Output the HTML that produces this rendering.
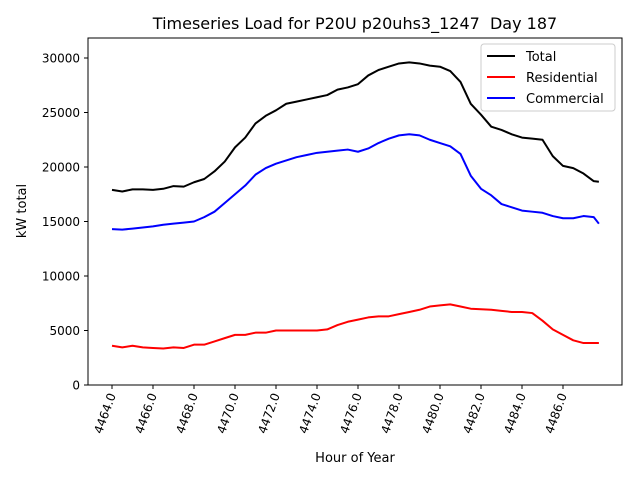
<!DOCTYPE html>
<html><head><meta charset="utf-8"><style>
body{margin:0;background:#fff;}
svg text{font-family:"DejaVu Sans","Liberation Sans",sans-serif;}
</style></head><body>
<svg id="chart" width="640" height="480" xmlns="http://www.w3.org/2000/svg">
<rect width="640" height="480" fill="#fff"/>
<text x="355" y="29" font-size="16" text-anchor="middle" style="white-space:pre">Timeseries Load for P20U p20uhs3_1247  Day 187</text>
<g id="axes"></g>
<g id="series"></g>
<rect x="88" y="38" width="534" height="347" fill="none" stroke="#000" stroke-width="1"/>
<text x="355" y="462" font-size="13" text-anchor="middle">Hour of Year</text>
<text transform="translate(26,211) rotate(-90)" font-size="13" text-anchor="middle">kW total</text>
<g>
<rect x="481" y="44" width="134" height="67" rx="3" fill="#fff" fill-opacity="0.8" stroke="#ccc"/>
<line x1="487" y1="56" x2="515" y2="56" stroke="#000" stroke-width="2"/>
<text x="526" y="61" font-size="13">Total</text>
<line x1="487" y1="77" x2="515" y2="77" stroke="#f00" stroke-width="2"/>
<text x="526" y="82" font-size="13">Residential</text>
<line x1="487" y1="98" x2="515" y2="98" stroke="#00f" stroke-width="2"/>
<text x="526" y="103" font-size="13">Commercial</text>
</g>
</svg>
<script>
const hours=[4464,4464.5,4465,4465.5,4466,4466.5,4467,4467.5,4468,4468.5,4469,4469.5,4470,4470.5,4471,4471.5,4472,4472.5,4473,4473.5,4474,4474.5,4475,4475.5,4476,4476.5,4477,4477.5,4478,4478.5,4479,4479.5,4480,4480.5,4481,4481.5,4482,4482.5,4483,4483.5,4484,4484.5,4485,4485.5,4486,4486.5,4487,4487.5,4487.75];
const total=[17900,17750,17950,17950,17900,18000,18250,18200,18600,18900,19600,20500,21800,22700,24000,24700,25200,25800,26000,26200,26400,26600,27100,27300,27600,28400,28900,29200,29500,29600,29500,29300,29200,28800,27800,25800,24800,23700,23400,23000,22700,22600,22500,21000,20100,19900,19400,18700,18650];
const residential=[3600,3450,3600,3450,3400,3350,3450,3400,3700,3700,4000,4300,4600,4600,4800,4800,5000,5000,5000,5000,5000,5100,5500,5800,6000,6200,6300,6300,6500,6700,6900,7200,7300,7400,7200,7000,6950,6900,6800,6700,6700,6600,5900,5100,4600,4100,3850,3850,3850];
const commercial=[14300,14250,14350,14450,14550,14700,14800,14900,15000,15400,15900,16700,17500,18300,19300,19900,20300,20600,20900,21100,21300,21400,21500,21600,21400,21700,22200,22600,22900,23000,22900,22500,22200,21900,21200,19200,18000,17400,16600,16300,16000,15900,15800,15500,15300,15300,15500,15400,14800];
const xTicks=[4464,4466,4468,4470,4472,4474,4476,4478,4480,4482,4484,4486];
const yTicks=[0,5000,10000,15000,20000,25000,30000];
const NS='http://www.w3.org/2000/svg';
const X=h=>112+(h-4464)*20.5;
const Y=v=>385-v*0.0109;
const axes=document.getElementById('axes');
const series=document.getElementById('series');
function mk(tag,attrs,parent){const e=document.createElementNS(NS,tag);for(const k in attrs)e.setAttribute(k,attrs[k]);parent.appendChild(e);return e;}
xTicks.forEach(t=>{
  const l=mk('line',{x1:X(t),x2:X(t),y1:385,y2:389,stroke:'#000'},axes);
  
  
  const tx=mk('text',{transform:`translate(${X(t)+4},395) rotate(-70)`,'font-size':12,'text-anchor':'end'},axes);
  tx.textContent=t.toFixed(1);
  
  
});
yTicks.forEach(t=>{
  const l=mk('line',{x1:84,x2:88,y1:Y(t),y2:Y(t),stroke:'#000'},axes);
  
  
  const tx=mk('text',{x:80,y:Y(t)+4.5,'font-size':12,'text-anchor':'end'},axes);
  tx.textContent=t;
  
  
});
[[total,'#000','total-line'],[residential,'#f00','residential-line'],[commercial,'#00f','commercial-line']].forEach(([d,c,n])=>{
  const p=mk('polyline',{points:d.map((v,i)=>X(hours[i])+','+Y(v)).join(' '),fill:'none',stroke:c,'stroke-width':2,'stroke-linejoin':'round'},series);
  
  
});
</script>
</body></html>
